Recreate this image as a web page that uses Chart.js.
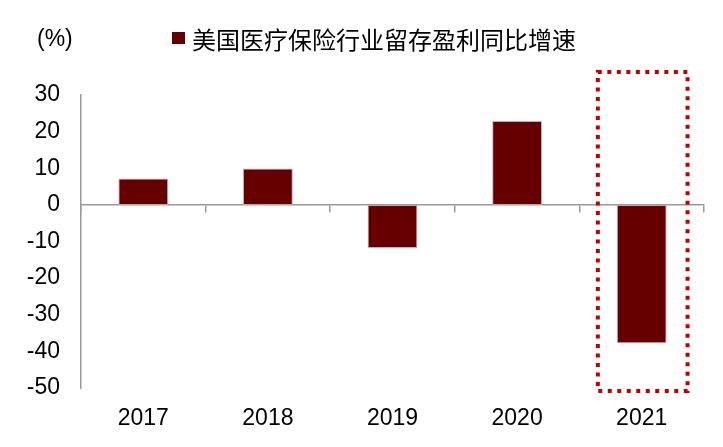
<!DOCTYPE html>
<html>
<head>
<meta charset="utf-8">
<script src="https://cdn.jsdelivr.net/npm/chart.js@4.4.0/dist/chart.umd.min.js"></script>
<style>
  body { margin: 0; background: #fff; }
  #wrap { position: relative; width: 723px; height: 447px; }
  .unit { position: absolute; left: 37px; top: 25px; font: 23px "Liberation Sans", Arial, sans-serif; line-height: 26px; color: #000; }
  .lg-box { position: absolute; left: 172px; top: 32px; width: 13px; height: 12px; background: #660000; }
  .lg-txt { position: absolute; left: 192px; top: 27px; font: 24px "Noto Sans CJK SC", sans-serif; line-height: 24px; color: #000; white-space: nowrap; }
</style>
</head>
<body>
<div id="wrap">
  <canvas id="myChart"></canvas>
  <div class="unit">(%)</div>
  <div class="lg-box"></div>
  <div class="lg-txt" id="lgTxt"></div>
</div>
<script>
const years = ['2017', '2018', '2019', '2020', '2021']
const growth = [7.2, 9.9, -11.8, 22.9, -37.8]
const seriesName = '美国医疗保险行业留存盈利同比增速'
const yTicks = [30, 20, 10, 0, -10, -20, -30, -40, -50]
const highlightYear = '2021'

document.getElementById('lgTxt').textContent = seriesName

// dotted red frame around the highlighted year
const highlightBox = {
  id: 'highlightBox',
  afterDraw(chart) {
    const xs = chart.scales.x
    const area = chart.chartArea
    const idx = years.indexOf(highlightYear)
    const cw = xs.width / years.length
    const cx = xs.getPixelForValue(idx)
    const ctx = chart.ctx
    ctx.save()
    ctx.strokeStyle = '#C00000'
    ctx.lineWidth = 4
    ctx.setLineDash([4, 5.5])
    ctx.strokeRect(cx - cw * 0.352, area.top - 23, cw * 0.72, area.bottom - area.top + 26)
    ctx.restore()
  }
}

const data = {
  labels: years,
  datasets: [{
    label: seriesName,
    data: growth,
    backgroundColor: '#660000',
    borderColor: 'rgba(190,170,170,0.9)',
    borderWidth: 1,
    borderSkipped: false,
    categoryPercentage: 1,
    barPercentage: 0.4
  }]
}

const config = {
  type: 'bar',
  data: data,
  options: {
    responsive: false,
    animation: false,
    layout: { padding: { left: 0, right: 19, top: 95, bottom: 0 } },
    plugins: {
      legend: { display: false },
      title: { display: false },
      tooltip: { enabled: false }
    },
    scales: {
      x: {
        position: 'bottom',
        grid: { display: false, drawTicks: false },
        border: { display: false },
        ticks: {
          color: '#000',
          padding: 17,
          font: { family: '"Liberation Sans", Arial, sans-serif', size: 23 }
        },
        afterFit(scale) { scale.height = 59 }
      },
      x0: {
        type: 'category',
        labels: years,
        position: { y: 0 },
        offset: true,
        ticks: { display: false },
        grid: { offset: true, drawOnChartArea: false, drawTicks: true, tickLength: 7, color: '#999', lineWidth: 1.5 },
        border: { display: true, color: '#999', width: 1.5 }
      },
      y: {
        min: -50,
        max: 30,
        afterBuildTicks(scale) { scale.ticks = yTicks.map(v => ({ value: v })) },
        grid: { display: false, drawTicks: false },
        border: { display: true, color: '#999', width: 1.5 },
        ticks: {
          color: '#000',
          padding: 21,
          font: { family: '"Liberation Sans", Arial, sans-serif', size: 23 }
        },
        afterFit(scale) { scale.width = 81 }
      }
    }
  },
  plugins: [highlightBox]
}

const canvas = document.getElementById('myChart')
canvas.width = 723
canvas.height = 447
canvas.style.width = '723px'
canvas.style.height = '447px'
new Chart(canvas, config)
</script>
</body>
</html>
